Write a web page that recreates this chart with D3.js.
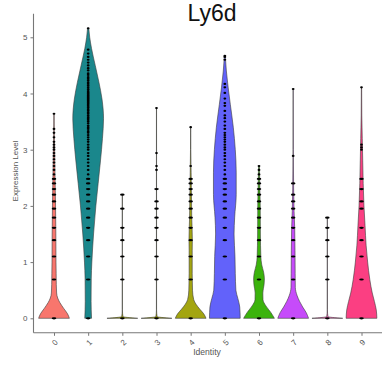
<!DOCTYPE html>
<html>
<head>
<meta charset="utf-8">
<script src="https://cdn.jsdelivr.net/npm/d3@7"></script>
<style>
  body { margin: 0; background: #fff; }
  text { font-family: "Liberation Sans", Arial, sans-serif; }
</style>
</head>
<body>
<div id="chart"></div>
<script>
const clusters = ['0', '1', '2', '3', '4', '5', '6', '7', '8', '9'];
const colors = ['#F8766D', '#1A878C', '#A3A500', '#A3A500', '#A3A510', '#6262FA', '#3BB30C', '#C64BFA', '#FF62BC', '#FB3F82'];
const yTicks = [0, 1, 2, 3, 4, 5];

// violin outline: [expression level, relative half width]
const dens0 = [[0, 1], [0.08, 0.88], [0.18, 0.62], [0.28, 0.38], [0.36, 0.24], [0.45, 0.17], [0.6, 0.15], [0.8, 0.14], [1.0, 0.13], [1.5, 0.12], [2.0, 0.1], [2.5, 0.07], [3.0, 0.04], [3.3, 0.02], [3.64, 0.01]];
const dens1 = [[0, 0.22], [0.3, 0.19], [0.7, 0.2], [1.0, 0.24], [1.5, 0.35], [2.0, 0.5], [2.4, 0.65], [2.8, 0.8], [3.2, 0.93], [3.55, 1.0], [3.9, 0.9], [4.2, 0.7], [4.5, 0.46], [4.8, 0.22], [5.0, 0.1], [5.16, 0.04]];
const dens2 = [[0, 1], [0.03, 0.04], [0.15, 0.006], [2.2, 0.004]];
const dens3 = [[0, 1], [0.03, 0.04], [0.15, 0.006], [3.74, 0.004]];
const dens4 = [[0, 1], [0.08, 0.85], [0.16, 0.6], [0.25, 0.35], [0.33, 0.2], [0.5, 0.12], [0.8, 0.1], [1.2, 0.1], [1.4, 0.11], [1.8, 0.07], [2.2, 0.05], [2.6, 0.03], [3.0, 0.01], [3.4, 0.005]];
const dens5 = [[0, 1], [0.2, 0.97], [0.35, 0.85], [0.5, 0.72], [0.8, 0.68], [1.1, 0.66], [1.5, 0.6], [1.8, 0.64], [2.2, 0.74], [2.6, 0.74], [3.0, 0.68], [3.4, 0.55], [3.8, 0.36], [4.1, 0.22], [4.4, 0.1], [4.67, 0.03]];
const dens6 = [[0, 1], [0.1, 0.78], [0.22, 0.45], [0.33, 0.26], [0.45, 0.25], [0.6, 0.33], [0.7, 0.35], [0.82, 0.3], [0.95, 0.18], [1.1, 0.12], [1.5, 0.09], [2.0, 0.08], [2.4, 0.05], [2.71, 0.03]];
const dens7 = [[0, 1], [0.1, 0.85], [0.2, 0.62], [0.3, 0.42], [0.4, 0.26], [0.55, 0.14], [0.8, 0.13], [1.2, 0.12], [1.6, 0.1], [1.9, 0.06], [2.3, 0.03], [3.0, 0.01], [4.08, 0.005]];
const dens8 = [[0, 1], [0.03, 0.04], [0.15, 0.006], [1.79, 0.004]];
const dens9 = [[0, 1], [0.15, 0.96], [0.3, 0.84], [0.45, 0.7], [0.69, 0.54], [1.0, 0.4], [1.3, 0.3], [1.65, 0.23], [2.0, 0.16], [2.4, 0.11], [2.8, 0.08], [3.2, 0.05], [3.6, 0.02], [4.11, 0.01]];

// expression levels where cells sit
const pts0 = [0, 0.69, 1.10, 1.39, 1.61, 1.79, 1.95, 2.08, 2.20, 2.30, 2.40, 2.48, 2.56, 2.64, 2.71, 2.77, 2.83, 2.89, 2.94, 3.00, 3.04, 3.09, 3.14, 3.22, 3.30, 3.37, 3.64];
const pts1 = [0, 0.69, 1.10, 1.39, 1.61, 1.79, 1.95, 2.08, 2.20, 2.30, 2.40, 2.48, 2.56, 2.64, 2.71, 2.77, 2.83, 2.89, 2.94, 3.00, 3.04, 3.09, 3.14, 3.18, 3.22, 3.26, 3.30, 3.33, 3.37, 3.40, 3.43, 3.47, 3.50, 3.53, 3.56, 3.58, 3.61, 3.64, 3.66, 3.69, 3.71, 3.74, 3.76, 3.78, 3.81, 3.83, 3.85, 3.87, 3.89, 3.91, 3.93, 3.95, 3.97, 3.99, 4.01, 4.03, 4.06, 4.08, 4.11, 4.14, 4.17, 4.20, 4.23, 4.26, 4.29, 4.33, 4.36, 4.41, 4.45, 4.50, 4.55, 4.60, 4.65, 4.71, 4.78, 5.16];
const pts2 = [0, 0.69, 1.10, 1.39, 1.61, 1.95, 2.20];
const pts3 = [0, 0.69, 1.10, 1.39, 1.61, 1.79, 1.95, 2.08, 2.30, 2.64, 2.71, 2.94, 3.74];
const pts4 = [0, 0.69, 1.10, 1.39, 1.61, 1.79, 1.95, 2.08, 2.20, 2.30, 2.40, 2.48, 2.71, 3.40];
const pts5 = [0, 0.69, 1.10, 1.39, 1.61, 1.79, 1.95, 2.08, 2.20, 2.30, 2.40, 2.48, 2.56, 2.64, 2.71, 2.77, 2.83, 2.89, 2.94, 3.00, 3.04, 3.09, 3.14, 3.18, 3.22, 3.26, 3.30, 3.37, 3.43, 3.50, 3.56, 3.61, 3.69, 3.78, 3.83, 3.91, 4.01, 4.11, 4.17, 4.60, 4.65, 4.67];
const pts6 = [0, 0.69, 1.10, 1.39, 1.61, 1.79, 1.95, 2.08, 2.20, 2.30, 2.40, 2.48, 2.56, 2.64, 2.71];
const pts7 = [0, 0.69, 1.10, 1.39, 1.61, 1.79, 1.95, 2.08, 2.20, 2.40, 2.89, 4.08];
const pts8 = [0, 0.69, 1.10, 1.39, 1.61, 1.79];
const pts9 = [0, 0.69, 1.10, 1.39, 1.61, 1.95, 2.08, 2.30, 2.48, 3.00, 3.04, 3.09, 4.11];

const densities = [dens0, dens1, dens2, dens3, dens4, dens5, dens6, dens7, dens8, dens9];
const points = [pts0, pts1, pts2, pts3, pts4, pts5, pts6, pts7, pts8, pts9];

const width = 385;
const height = 371;

const svg = d3.select('#chart')
  .append('svg')
  .attr('width', width)
  .attr('height', height);

const xScale = d3.scalePoint()
  .domain(clusters)
  .range([33.5, 382])
  .padding(0.6);

const yScale = d3.scaleLinear()
  .domain([-0.258, 5.418])
  .range([332.8, 13.8]);

// half width of a violin at relative density 1
const wScale = d3.scaleLinear()
  .domain([0, 1])
  .range([0, xScale.step() * 0.45]);

// violins
clusters.forEach((c, i) => {
  const cx = xScale(c);
  const area = d3.area()
    .y((d) => yScale(d[0]))
    .x0((d) => cx - wScale(d[1]))
    .x1((d) => cx + wScale(d[1]))
    .curve(d3.curveMonotoneY);
  svg.append('path')
    .datum(densities[i])
    .attr('d', area)
    .attr('fill', colors[i])
    .attr('stroke', '#3a3a3a')
    .attr('stroke-width', 0.6);
});

// cells
clusters.forEach((c, i) => {
  const cx = xScale(c);
  svg.append('g')
    .selectAll('ellipse')
    .data(points[i])
    .enter()
    .append('ellipse')
    .attr('cx', cx)
    .attr('cy', (v) => yScale(v))
    .attr('rx', (v) => (v < 2.5 ? 2.3 : 1.4))
    .attr('ry', 1.1)
    .attr('fill', '#000');
});

// y axis
const yAxis = svg.append('g')
  .attr('transform', 'translate(33.5,0)')
  .call(d3.axisLeft(yScale).tickValues(yTicks).tickFormat(d3.format('d')).tickSize(3).tickPadding(3));
yAxis.select('.domain').attr('stroke', '#777').attr('stroke-width', 1.1)
  .attr('d', 'M0,' + yScale.range()[0] + 'V' + yScale.range()[1]);
yAxis.selectAll('.tick line').attr('stroke', '#777');
yAxis.selectAll('.tick text')
  .attr('fill', '#555')
  .style('font-size', '8px');

// x axis
const xAxis = svg.append('g')
  .attr('transform', 'translate(0,332.8)')
  .call(d3.axisBottom(xScale).tickSize(3).tickPadding(2));
xAxis.select('.domain').attr('stroke', '#777').attr('stroke-width', 1.1)
  .attr('d', 'M33.5,0H382');
xAxis.selectAll('.tick line').attr('stroke', '#777');
xAxis.selectAll('.tick text')
  .attr('fill', '#555')
  .style('font-size', '8px')
  .attr('text-anchor', 'end')
  .attr('dy', null)
  .attr('y', 0)
  .attr('transform', 'translate(4,10) rotate(-45)');

// labels
svg.append('text')
  .attr('x', 212)
  .attr('y', 21)
  .attr('text-anchor', 'middle')
  .attr('fill', '#111')
  .style('font-size', '23px')
  .text('Ly6d');

svg.append('text')
  .attr('x', 207)
  .attr('y', 355)
  .attr('text-anchor', 'middle')
  .attr('fill', '#555')
  .style('font-size', '8.6px')
  .text('Identity');

svg.append('text')
  .attr('transform', 'translate(18,171) rotate(-90)')
  .attr('text-anchor', 'middle')
  .attr('fill', '#555')
  .style('font-size', '8px')
  .text('Expression Level');
</script>
</body>
</html>
